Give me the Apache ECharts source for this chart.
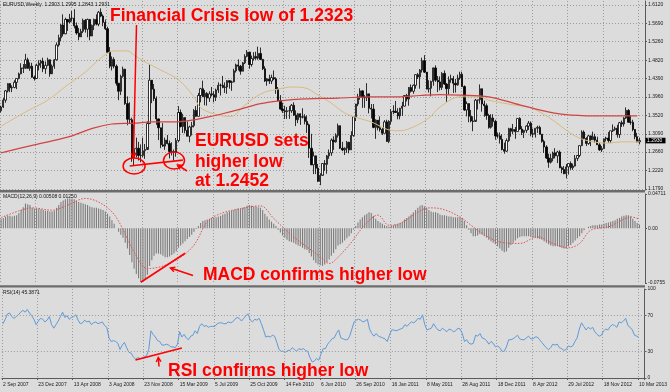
<!DOCTYPE html>
<html><head><meta charset="utf-8">
<script src="https://cdn.jsdelivr.net/npm/echarts@6/dist/echarts.min.js"></script>
<style>html,body{margin:0;padding:0;background:#dcdcdc}#c{width:670px;height:392px}</style>
</head><body><div id="c"></div>
<script>
// ---------- data ----------
const tickLabels = ['2 Sep 2007','23 Dec 2007','13 Apr 2008','3 Aug 2008','23 Nov 2008','15 Mar 2009','5 Jul 2009','25 Oct 2009','14 Feb 2010','6 Jun 2010','26 Sep 2010','16 Jan 2011','8 May 2011','28 Aug 2011','18 Dec 2011','8 Apr 2012','29 Jul 2012','18 Nov 2012','10 Mar 2013'];
const priceTicks = [1.1790,1.2220,1.2660,1.3090,1.3520,1.3960,1.4390,1.4820,1.5260,1.5690,1.6120];
const macdTicks = [-0.0755, 0, 0.04711];
const macdTickLabels = ['-0.0755', '0.00', '0.04711'];
const rsiTicks = [0, 30, 70, 100];
const rsiLevels = [30, 70];

const opens = [1.363,1.372,1.388,1.410,1.427,1.417,1.418,1.430,1.439,1.450,
1.464,1.463,1.483,1.463,1.468,1.442,1.439,1.470,1.475,1.480,
1.462,1.470,1.483,1.450,1.468,1.483,1.518,1.535,1.565,1.544,
1.578,1.572,1.581,1.581,1.563,1.546,1.537,1.550,1.576,1.555,
1.578,1.539,1.564,1.578,1.567,1.595,1.586,1.571,1.556,1.501,
1.468,1.484,1.468,1.428,1.409,1.444,1.461,1.380,1.343,1.342,
1.252,1.274,1.275,1.258,1.258,1.269,1.272,1.333,1.435,1.414,
1.392,1.344,1.323,1.283,1.280,1.294,1.286,1.267,1.267,1.266,
1.293,1.359,1.326,1.347,1.317,1.303,1.325,1.328,1.364,1.350,
1.399,1.415,1.396,1.404,1.393,1.403,1.401,1.395,1.412,1.423,
1.423,1.418,1.419,1.434,1.430,1.431,1.457,1.471,1.468,1.456,
1.476,1.491,1.501,1.472,1.486,1.491,1.487,1.498,1.484,1.462,
1.433,1.438,1.433,1.441,1.438,1.414,1.387,1.367,1.363,1.361,
1.363,1.363,1.376,1.353,1.342,1.356,1.348,1.349,1.338,1.330,
1.275,1.236,1.257,1.228,1.197,1.211,1.239,1.237,1.257,1.264,
1.294,1.290,1.305,1.328,1.275,1.271,1.275,1.289,1.271,1.305,
1.349,1.379,1.396,1.410,1.395,1.394,1.403,1.369,1.367,1.324,
1.341,1.323,1.319,1.310,1.337,1.291,1.338,1.361,1.362,1.359,
1.351,1.369,1.374,1.399,1.391,1.418,1.409,1.423,1.448,1.443,
1.459,1.481,1.454,1.414,1.416,1.432,1.464,1.435,1.431,1.418,
1.451,1.426,1.415,1.436,1.439,1.428,1.424,1.440,1.449,1.420,
1.365,1.380,1.350,1.339,1.338,1.388,1.389,1.415,1.379,1.375,
1.352,1.324,1.346,1.338,1.304,1.304,1.296,1.272,1.268,1.293,
1.321,1.315,1.319,1.314,1.345,1.320,1.312,1.317,1.327,1.334,
1.309,1.308,1.322,1.324,1.308,1.291,1.278,1.252,1.242,1.251,
1.264,1.257,1.266,1.229,1.225,1.215,1.231,1.239,1.229,1.233,
1.251,1.258,1.281,1.313,1.298,1.286,1.304,1.295,1.302,1.294,
1.283,1.271,1.274,1.297,1.299,1.293,1.316,1.319,1.322,1.307,
1.335,1.332,1.346,1.364,1.336,1.336,1.319,1.302,1.290];

const closes = [1.372,1.388,1.410,1.427,1.417,1.418,1.430,1.439,1.450,1.464,
1.463,1.483,1.463,1.468,1.442,1.439,1.470,1.475,1.480,1.462,
1.470,1.483,1.450,1.468,1.483,1.518,1.535,1.565,1.544,1.578,
1.572,1.581,1.581,1.563,1.546,1.537,1.550,1.576,1.555,1.578,
1.539,1.564,1.578,1.567,1.595,1.586,1.571,1.556,1.501,1.468,
1.484,1.468,1.428,1.409,1.444,1.461,1.380,1.343,1.342,1.252,
1.274,1.275,1.258,1.258,1.269,1.272,1.333,1.435,1.414,1.392,
1.344,1.323,1.283,1.280,1.294,1.286,1.267,1.267,1.266,1.293,
1.359,1.326,1.347,1.317,1.303,1.325,1.328,1.364,1.350,1.399,
1.415,1.396,1.404,1.393,1.403,1.401,1.395,1.412,1.423,1.423,
1.418,1.419,1.434,1.430,1.431,1.457,1.471,1.468,1.456,1.476,
1.491,1.501,1.472,1.486,1.491,1.487,1.498,1.484,1.462,1.433,
1.438,1.433,1.441,1.438,1.414,1.387,1.367,1.363,1.361,1.363,
1.363,1.376,1.353,1.342,1.356,1.348,1.349,1.338,1.330,1.275,
1.236,1.257,1.228,1.197,1.211,1.239,1.237,1.257,1.264,1.294,
1.290,1.305,1.328,1.275,1.271,1.275,1.289,1.271,1.305,1.349,
1.379,1.396,1.410,1.395,1.394,1.403,1.369,1.367,1.324,1.341,
1.323,1.319,1.310,1.337,1.291,1.338,1.361,1.362,1.359,1.351,
1.369,1.374,1.399,1.391,1.418,1.409,1.423,1.448,1.443,1.459,
1.481,1.454,1.414,1.416,1.432,1.464,1.435,1.431,1.418,1.451,
1.426,1.415,1.436,1.439,1.428,1.424,1.440,1.449,1.420,1.365,
1.380,1.350,1.339,1.338,1.388,1.389,1.415,1.379,1.375,1.352,
1.324,1.346,1.338,1.304,1.304,1.296,1.272,1.268,1.293,1.321,
1.315,1.319,1.314,1.345,1.320,1.312,1.317,1.327,1.334,1.309,
1.308,1.322,1.324,1.308,1.291,1.278,1.252,1.242,1.251,1.264,
1.257,1.266,1.229,1.225,1.215,1.231,1.239,1.229,1.233,1.251,
1.258,1.281,1.313,1.298,1.286,1.304,1.295,1.302,1.294,1.283,
1.271,1.274,1.297,1.299,1.293,1.316,1.319,1.322,1.307,1.335,
1.332,1.346,1.364,1.336,1.336,1.319,1.302,1.290,1.293];

const highs = [1.375,1.393,1.412,1.428,1.428,1.423,1.435,1.439,1.453,1.475,
1.473,1.497,1.488,1.477,1.476,1.446,1.474,1.482,1.483,1.488,
1.479,1.488,1.484,1.472,1.485,1.524,1.542,1.567,1.590,1.582,
1.579,1.591,1.598,1.602,1.571,1.558,1.556,1.580,1.579,1.580,
1.576,1.566,1.580,1.590,1.598,1.604,1.590,1.578,1.561,1.513,
1.491,1.489,1.472,1.428,1.448,1.467,1.462,1.397,1.383,1.347,
1.330,1.300,1.290,1.284,1.300,1.285,1.338,1.472,1.422,1.426,
1.397,1.345,1.321,1.334,1.300,1.306,1.293,1.289,1.272,1.299,
1.374,1.366,1.356,1.346,1.338,1.328,1.337,1.367,1.374,1.405,
1.417,1.434,1.412,1.407,1.409,1.419,1.409,1.415,1.430,1.427,
1.445,1.430,1.435,1.435,1.434,1.462,1.474,1.484,1.471,1.478,
1.496,1.506,1.502,1.493,1.501,1.502,1.514,1.512,1.485,1.468,
1.440,1.448,1.448,1.458,1.442,1.419,1.400,1.382,1.375,1.372,
1.374,1.379,1.383,1.364,1.358,1.357,1.369,1.355,1.352,1.333,
1.309,1.267,1.255,1.238,1.216,1.240,1.247,1.259,1.272,1.298,
1.303,1.310,1.333,1.328,1.290,1.277,1.292,1.290,1.315,1.350,
1.379,1.403,1.416,1.408,1.400,1.428,1.402,1.379,1.379,1.343,
1.340,1.350,1.324,1.341,1.342,1.341,1.367,1.376,1.386,1.369,
1.370,1.384,1.400,1.403,1.419,1.425,1.425,1.449,1.452,1.461,
1.488,1.494,1.450,1.435,1.434,1.465,1.470,1.445,1.444,1.454,
1.458,1.428,1.444,1.448,1.445,1.438,1.448,1.455,1.455,1.423,
1.385,1.380,1.365,1.350,1.391,1.389,1.425,1.415,1.387,1.380,
1.356,1.355,1.355,1.342,1.312,1.312,1.308,1.288,1.298,1.323,
1.323,1.332,1.325,1.345,1.348,1.327,1.318,1.329,1.339,1.338,
1.321,1.322,1.328,1.328,1.308,1.295,1.282,1.262,1.262,1.267,
1.275,1.269,1.270,1.232,1.233,1.238,1.239,1.244,1.239,1.259,
1.259,1.282,1.317,1.317,1.301,1.306,1.305,1.314,1.309,1.302,
1.288,1.280,1.298,1.302,1.313,1.316,1.331,1.326,1.330,1.337,
1.340,1.348,1.371,1.367,1.352,1.342,1.320,1.311,1.300];

const lows = [1.359,1.370,1.382,1.406,1.407,1.407,1.416,1.414,1.437,1.449,
1.452,1.473,1.462,1.457,1.441,1.434,1.438,1.458,1.464,1.454,
1.450,1.468,1.443,1.451,1.462,1.481,1.514,1.527,1.538,1.545,
1.551,1.569,1.573,1.557,1.542,1.529,1.538,1.546,1.547,1.536,
1.529,1.539,1.553,1.564,1.562,1.583,1.562,1.553,1.499,1.463,
1.458,1.463,1.422,1.388,1.400,1.441,1.377,1.329,1.332,1.243,
1.233,1.253,1.246,1.242,1.254,1.250,1.278,1.332,1.381,1.386,
1.330,1.294,1.275,1.278,1.271,1.284,1.251,1.258,1.246,1.255,
1.289,1.324,1.311,1.310,1.303,1.289,1.305,1.324,1.349,1.350,
1.383,1.396,1.376,1.375,1.384,1.397,1.383,1.386,1.405,1.399,
1.416,1.405,1.403,1.415,1.410,1.430,1.453,1.458,1.448,1.456,
1.473,1.489,1.462,1.467,1.481,1.483,1.483,1.483,1.459,1.431,
1.422,1.426,1.426,1.435,1.403,1.386,1.366,1.358,1.344,1.344,
1.344,1.358,1.351,1.327,1.334,1.330,1.345,1.331,1.311,1.252,
1.235,1.214,1.214,1.196,1.188,1.213,1.222,1.215,1.250,1.257,
1.271,1.288,1.300,1.273,1.268,1.259,1.264,1.263,1.271,1.302,
1.339,1.374,1.389,1.370,1.370,1.386,1.357,1.345,1.322,1.297,
1.317,1.314,1.306,1.310,1.290,1.287,1.331,1.355,1.358,1.343,
1.343,1.351,1.373,1.385,1.375,1.406,1.403,1.415,1.438,1.415,
1.453,1.452,1.414,1.406,1.397,1.422,1.431,1.407,1.411,1.412,
1.424,1.384,1.401,1.429,1.405,1.406,1.422,1.436,1.419,1.363,
1.350,1.336,1.336,1.315,1.342,1.366,1.380,1.361,1.349,1.342,
1.321,1.321,1.326,1.295,1.298,1.286,1.270,1.262,1.266,1.290,
1.302,1.308,1.297,1.314,1.318,1.306,1.299,1.311,1.318,1.303,
1.300,1.300,1.311,1.307,1.288,1.264,1.250,1.229,1.239,1.244,
1.251,1.240,1.228,1.216,1.214,1.204,1.213,1.224,1.224,1.232,
1.245,1.254,1.280,1.295,1.280,1.283,1.280,1.295,1.288,1.283,
1.269,1.266,1.274,1.291,1.288,1.287,1.313,1.316,1.300,1.299,
1.325,1.326,1.344,1.335,1.330,1.315,1.296,1.289,1.284];

// moving averages: [week index, price]
const ma50 = [[0,1.327],[12,1.363],[21,1.388],[30,1.424],[38,1.454],[45,1.487],[51,1.504],[57,1.504],[60,1.494],[65,1.478],[72,1.459],[80,1.436],[87,1.396],[90,1.370],[98,1.353],[104,1.350],[109,1.372],[114,1.393],[119,1.407],[125,1.414],[131,1.419],[137,1.417],[143,1.400],[149,1.381],[155,1.358],[161,1.346],[167,1.337],[175,1.318],[180,1.316],[186,1.325],[193,1.346],[198,1.372],[207,1.396],[216,1.396],[220,1.388],[231,1.377],[239,1.370],[247,1.348],[253,1.325],[260,1.301],[267,1.290],[274,1.287],[280,1.290],[288,1.290]];
const ma200 = [[0,1.264],[15,1.283],[30,1.301],[42,1.323],[50,1.332],[60,1.334],[68,1.337],[78,1.337],[86,1.341],[93,1.348],[99,1.355],[108,1.367],[117,1.380],[125,1.386],[137,1.391],[152,1.393],[167,1.396],[179,1.396],[189,1.399],[198,1.401],[207,1.400],[220,1.396],[234,1.377],[249,1.358],[257,1.353],[272,1.351],[287,1.351]];

const macd = [0.013,0.014,0.016,0.017,0.017,0.016,0.017,0.018,0.021,0.025,
0.029,0.034,0.033,0.032,0.028,0.027,0.027,0.027,0.026,0.025,
0.024,0.024,0.023,0.023,0.024,0.028,0.032,0.036,0.038,0.040,
0.041,0.041,0.041,0.040,0.038,0.036,0.035,0.034,0.033,0.032,
0.030,0.029,0.028,0.028,0.027,0.026,0.025,0.023,0.020,0.016,
0.011,0.006,0.000,-0.005,-0.009,-0.013,-0.020,-0.028,-0.037,-0.047,
-0.056,-0.063,-0.069,-0.074,-0.074,-0.071,-0.064,-0.052,-0.044,-0.038,
-0.035,-0.035,-0.036,-0.038,-0.040,-0.040,-0.039,-0.037,-0.035,-0.032,
-0.027,-0.024,-0.021,-0.018,-0.015,-0.012,-0.009,-0.005,-0.001,0.003,
0.007,0.010,0.011,0.012,0.013,0.014,0.015,0.015,0.016,0.017,
0.019,0.020,0.022,0.023,0.024,0.025,0.026,0.027,0.027,0.028,
0.029,0.031,0.032,0.031,0.030,0.030,0.029,0.028,0.025,0.020,
0.016,0.012,0.009,0.006,0.003,-0.002,-0.006,-0.010,-0.013,-0.016,
-0.018,-0.019,-0.020,-0.022,-0.024,-0.025,-0.027,-0.029,-0.030,-0.034,
-0.039,-0.044,-0.048,-0.050,-0.051,-0.052,-0.050,-0.047,-0.043,-0.038,
-0.034,-0.029,-0.024,-0.022,-0.020,-0.017,-0.014,-0.011,-0.007,-0.002,
0.003,0.008,0.012,0.015,0.018,0.020,0.022,0.021,0.017,0.013,
0.010,0.008,0.006,0.004,0.003,0.002,0.003,0.004,0.005,0.006,
0.007,0.009,0.012,0.014,0.016,0.019,0.022,0.025,0.028,0.031,
0.032,0.030,0.028,0.025,0.023,0.022,0.022,0.021,0.019,0.018,
0.018,0.017,0.016,0.016,0.015,0.015,0.015,0.015,0.014,0.010,
0.004,-0.002,-0.007,-0.011,-0.011,-0.010,-0.008,-0.009,-0.011,-0.013,
-0.016,-0.018,-0.020,-0.022,-0.025,-0.028,-0.031,-0.033,-0.032,-0.027,
-0.023,-0.020,-0.017,-0.014,-0.012,-0.011,-0.011,-0.011,-0.011,-0.012,
-0.013,-0.013,-0.014,-0.015,-0.016,-0.018,-0.020,-0.022,-0.024,-0.025,
-0.025,-0.025,-0.026,-0.027,-0.028,-0.028,-0.025,-0.023,-0.020,-0.017,
-0.014,-0.011,-0.007,-0.003,0.000,0.002,0.003,0.004,0.004,0.004,
0.005,0.005,0.006,0.007,0.008,0.009,0.010,0.011,0.013,0.014,
0.016,0.017,0.018,0.018,0.016,0.013,0.010,0.007,0.005];

const macdSignal = [[0,0.0147],[9,0.0248],[14,0.028],[23,0.0248],[30,0.0317],[38,0.041],[44,0.036],[50,0.0225],[54,0.0041],[60,-0.0327],[66,-0.0556],[72,-0.053],[80,-0.042],[87,-0.0234],[93,0.0087],[99,0.020],[108,0.027],[117,0.0307],[123,0.0134],[131,-0.0096],[138,-0.0258],[144,-0.0395],[148,-0.0486],[150,-0.046],[157,-0.0234],[164,0.0041],[170,0.018],[175,0.004],[180,0.0065],[186,0.018],[193,0.028],[198,0.027],[207,0.0156],[212,0.0041],[216,-0.005],[225,-0.019],[234,-0.021],[242,-0.012],[249,-0.021],[256,-0.027],[261,-0.021],[266,-0.0028],[274,0.0018],[280,0.011],[284,0.0156],[288,0.0125]];

const rsi = [61,66,72,73,69,67,69,71,74,76,
74,77,73,70,66,60,64,67,66,63,
65,69,60,56,60,64,69,74,68,70,
66,68,69,71,65,61,62,65,63,64,
60,62,63,61,62,63,59,57,45,41,
42,41,39,32,37,40,34,29,28,24,
21,23,22,22,24,25,32,53,49,46,
42,41,37,37,38,37,35,35,34,38,
52,46,49,45,43,47,48,53,50,58,
61,58,59,57,58,58,58,61,62,62,
61,61,63,62,63,66,68,67,64,67,
70,72,65,63,66,65,67,61,54,46,
47,46,48,47,40,32,30,30,29,31,
31,34,32,30,33,32,33,31,30,23,
18,19,22,20,27,33,33,38,41,44,
45,50,54,45,44,43,43,47,55,63,
65,66,65,63,64,66,55,50,47,50,
47,46,45,44,41,48,54,54,53,54,
55,56,60,58,61,63,62,64,67,66,
71,60,54,55,56,61,57,54,53,56,
54,52,55,54,52,53,56,55,50,41,
43,39,38,39,48,47,50,45,44,42,
38,41,39,35,36,34,30,30,35,43,
43,44,46,48,44,43,43,45,47,44,
44,46,46,43,40,37,34,32,34,38,
37,38,34,33,31,32,36,35,36,41,
45,55,62,58,54,57,55,57,52,49,
47,48,53,55,54,58,60,59,57,63,
62,64,67,59,57,54,48,47,45.4];

// annotation anchors in data space
const priceLowLine = [[58, 1.233], [82, 1.247]];
const crisisLow = [60, 1.233];
const secondLow = [78, 1.246];
const macdLowLine = [[63, -0.0745], [83, -0.0345]];
const rsiLowLine = [[60, 20.2], [81, 33.7]];

// ---------- chart ----------
const NCAT = 291;
const cats = Array.from({length: NCAT}, (_, i) => String(i));
const candleData = closes.map((c, i) => [opens[i], c, lows[i], highs[i]]);

const GRID_L = -1.6, GRID_R = 25;
const LABEL_FONT = 'Liberation Sans';
const AXIS_COLOR = '#5a5a5a';
const GRID_LINE = {color: '#9c9c9c', type: [1, 2], width: 1};

function xAxisFor(i) {
  const last = i === 2;
  return {
    type: 'category', gridIndex: i, data: cats, boundaryGap: true,
    offset: last ? 3 : 0,
    axisLine: {show: last, lineStyle: {color: AXIS_COLOR, width: 1}},
    axisTick: {show: last, interval: 15, length: 2, lineStyle: {color: AXIS_COLOR}},
    axisLabel: {show: last, interval: 15, align: 'left', margin: 1, fontSize: 5,
      fontFamily: LABEL_FONT, color: '#1a1a1a',
      formatter: (v, idx) => tickLabels[idx / 16] || ''},
    splitLine: {show: true, interval: 15, lineStyle: GRID_LINE}
  };
}

const chart = echarts.init(document.getElementById('c'), null, {renderer: 'canvas', width: 670, height: 392});

const option = {
  backgroundColor: '#dcdcdc',
  animation: false,
  grid: [
    {left: GRID_L, right: GRID_R, top: 1, height: 189},
    {left: GRID_L, right: GRID_R, top: 194, height: 89},
    {left: GRID_L, right: GRID_R, top: 289, height: 89}
  ],
  xAxis: [xAxisFor(0), xAxisFor(1), xAxisFor(2)],
  yAxis: [
    {type: 'value', gridIndex: 0, position: 'right', min: 1.17665, max: 1.62141, scale: true,
      axisLine: {show: true, lineStyle: {color: AXIS_COLOR, width: 1}},
      axisTick: {show: true, length: 2, customValues: priceTicks, lineStyle: {color: AXIS_COLOR}},
      axisLabel: {customValues: priceTicks, margin: 3, fontSize: 5, fontFamily: LABEL_FONT, color: '#1a1a1a',
        formatter: v => v.toFixed(4)},
      splitLine: {show: true, lineStyle: GRID_LINE}},
    {type: 'value', gridIndex: 1, position: 'right', min: -0.0755, max: 0.04711,
      axisLine: {show: true, lineStyle: {color: AXIS_COLOR, width: 1}},
      axisTick: {show: true, length: 2, customValues: macdTicks, lineStyle: {color: AXIS_COLOR}},
      axisLabel: {customValues: macdTicks, margin: 3, fontSize: 5, fontFamily: LABEL_FONT, color: '#1a1a1a',
        showMinLabel: true, showMaxLabel: true,
        formatter: v => {
          let best = 0;
          macdTicks.forEach((t, k) => { if (Math.abs(t - v) < Math.abs(macdTicks[best] - v)) best = k; });
          return macdTickLabels[best];
        }},
      splitLine: {show: false}},
    {type: 'value', gridIndex: 2, position: 'right', min: 0, max: 100,
      axisLine: {show: true, lineStyle: {color: AXIS_COLOR, width: 1}},
      axisTick: {show: true, length: 2, customValues: rsiTicks, lineStyle: {color: AXIS_COLOR}},
      axisLabel: {customValues: rsiTicks, margin: 3, fontSize: 5, fontFamily: LABEL_FONT, color: '#1a1a1a',
        showMinLabel: true, showMaxLabel: true, formatter: v => String(v)},
      splitLine: {show: false}}
  ],
  series: [
    {type: 'candlestick', xAxisIndex: 0, yAxisIndex: 0, data: candleData, barWidth: 1.8,
      itemStyle: {color: '#ffffff', color0: '#000000', borderColor: '#000000', borderColor0: '#000000', borderWidth: 0.8}},
    {type: 'line', xAxisIndex: 0, yAxisIndex: 0, data: ma50, smooth: 0.35, symbol: 'none',
      lineStyle: {color: '#d8bb80', width: 1}},
    {type: 'line', xAxisIndex: 0, yAxisIndex: 0, data: ma200, smooth: 0.35, symbol: 'none',
      lineStyle: {color: '#d24444', width: 1.2}},
    {type: 'bar', xAxisIndex: 1, yAxisIndex: 1, data: macd, barWidth: 1.1,
      itemStyle: {color: '#7c7c7c'}},
    {type: 'line', xAxisIndex: 1, yAxisIndex: 1, data: macdSignal, smooth: 0.35, symbol: 'none',
      lineStyle: {color: '#e05050', width: 1, type: [1.5, 1.5]}},
    {type: 'line', xAxisIndex: 2, yAxisIndex: 2, data: rsi, symbol: 'none',
      lineStyle: {color: '#5e9ad8', width: 1},
      markLine: {silent: true, symbol: 'none', label: {show: false},
        lineStyle: {color: '#9c9c9c', type: [1, 2], width: 1},
        data: rsiLevels.map(v => ({yAxis: v}))}}
  ]
};
chart.setOption(option);

// ---------- annotations ----------
const RED = '#ff0000';
const ANN_FONT = 'bold 17.5px "Liberation Sans", Arial, sans-serif';
const toPx = (g, p) => chart.convertToPixel({gridIndex: g}, p);

function annText(t, x, y) {
  return {type: 'text', x: x, y: y, z: 100,
    style: {text: t, font: ANN_FONT, fill: RED, align: 'left', verticalAlign: 'middle'}};
}
function smallText(t, x, y, fill) {
  return {type: 'text', x: x, y: y, z: 100,
    style: {text: t, font: '5px "Liberation Sans"', fill: fill || '#111', align: 'left', verticalAlign: 'middle'}};
}
function segment(a, b, w) {
  return {type: 'line', z: 100, shape: {x1: a[0], y1: a[1], x2: b[0], y2: b[1]},
    style: {stroke: RED, lineWidth: w || 1.6}};
}
function arrow(a, b) {
  const ang = Math.atan2(b[1] - a[1], b[0] - a[0]);
  const L = 5, sp = 0.5;
  const h1 = [b[0] - L * Math.cos(ang - sp), b[1] - L * Math.sin(ang - sp)];
  const h2 = [b[0] - L * Math.cos(ang + sp), b[1] - L * Math.sin(ang + sp)];
  return [segment(a, b, 1.5),
    {type: 'polyline', z: 100, shape: {points: [h1, b, h2]}, style: {stroke: RED, lineWidth: 1.5, fill: null}}];
}
function ellipseAt(p, rx, ry) {
  return {type: 'ellipse', z: 100, shape: {cx: p[0], cy: p[1], rx: rx, ry: ry},
    style: {stroke: RED, lineWidth: 1.5, fill: null}};
}

const lastClose = closes[closes.length - 1];
const lastY = toPx(0, [closes.length - 1, lastClose])[1];

const gfx = [
  // panel separators
  {type: 'rect', z: 90, shape: {x: 0, y: 190, width: 645, height: 2.5}, style: {fill: '#6c6c6c'}},
  {type: 'rect', z: 90, shape: {x: 0, y: 285.3, width: 645, height: 2.2}, style: {fill: '#6c6c6c'}},
  // panel titles
  smallText('EURUSD,Weekly  1.2903 1.2995 1.2843 1.2931', 3, 5),
  smallText('MACD(12,26,9) 0.00508 0.01250', 3, 197),
  smallText('RSI(14) 45.3871', 3, 293),
  // last price box
  {type: 'rect', z: 95, shape: {x: 645.5, y: lastY - 2.8, width: 20, height: 5.6}, style: {fill: '#000'}},
  smallText(lastClose.toFixed(4), 647, lastY, '#ffffff'),
  // annotation texts
  annText('Financial Crisis low of 1.2323', 110, 16.3),
  annText('EURUSD sets', 195, 141.5),
  annText('higher low', 195, 161.8),
  annText('at 1.2452', 195, 181),
  annText('MACD confirms higher low', 203, 275),
  annText('RSI confirms higher low', 168, 371),
  // price annotations
  ellipseAt(toPx(0, crisisLow), 11, 8),
  ellipseAt(toPx(0, secondLow), 10.5, 8.5),
  segment(toPx(0, priceLowLine[0]), toPx(0, priceLowLine[1])),
  ...arrow([136.5, 25], [133.4, 157.5]),
  ...arrow([187, 171], [177.5, 165]),
  // MACD annotations
  segment(toPx(1, macdLowLine[0]), toPx(1, macdLowLine[1])),
  ...arrow([193, 275.5], [170.5, 268]),
  // RSI annotations
  segment(toPx(2, rsiLowLine[0]), toPx(2, rsiLowLine[1])),
  ...arrow([159, 366.5], [158.3, 357.5])
];
chart.setOption({graphic: gfx});
</script>
</body></html>
